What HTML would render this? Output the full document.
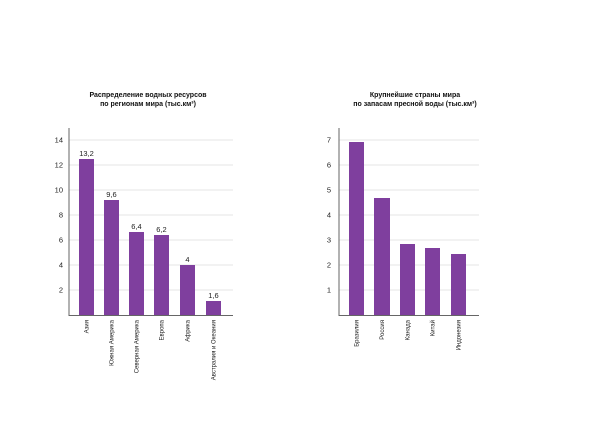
<!DOCTYPE html>
<html><head><meta charset="utf-8"><style>
html,body{margin:0;padding:0;background:#fff;}
svg{display:block;font-family:"Liberation Sans",sans-serif;}
</style></head><body>
<svg width="600" height="423" viewBox="0 0 600 423">
<rect width="600" height="423" fill="#fff"/>
<g font-size="7" font-weight="bold" fill="#111" text-anchor="middle">
<text x="148" y="97">Распределение водных ресурсов</text>
<text x="148" y="106">по регионам мира (тыс.км³)</text>
<text x="415" y="97">Крупнейшие страны мира</text>
<text x="415" y="106">по запасам пресной воды (тыс.км³)</text>
</g>
<!-- left chart -->
<g stroke="#ddd" stroke-width="0.8">
<line x1="69" y1="140" x2="233" y2="140"/>
<line x1="69" y1="165" x2="233" y2="165"/>
<line x1="69" y1="190" x2="233" y2="190"/>
<line x1="69" y1="215" x2="233" y2="215"/>
<line x1="69" y1="240" x2="233" y2="240"/>
<line x1="69" y1="265" x2="233" y2="265"/>
<line x1="69" y1="290" x2="233" y2="290"/>
</g>
<g font-size="7.5" fill="#222" text-anchor="end">
<text x="63" y="142.5">14</text><text x="63" y="167.5">12</text><text x="63" y="192.5">10</text>
<text x="63" y="217.5">8</text><text x="63" y="242.5">6</text><text x="63" y="267.5">4</text><text x="63" y="292.5">2</text>
</g>
<g fill="#7f3f9e">
<rect x="79" y="159" width="15" height="156"/>
<rect x="104" y="200" width="15" height="115"/>
<rect x="129" y="232" width="15" height="83"/>
<rect x="154" y="235" width="15" height="80"/>
<rect x="180" y="265" width="15" height="50"/>
<rect x="206" y="301" width="15" height="14"/>
</g>
<line x1="69" y1="128" x2="69" y2="316" stroke="#666" stroke-width="1"/>
<line x1="69" y1="315.5" x2="233" y2="315.5" stroke="#666" stroke-width="1"/>
<g font-size="7.5" fill="#222" text-anchor="middle">
<text x="86.5" y="156">13,2</text><text x="111.5" y="197">9,6</text><text x="136.5" y="229">6,4</text>
<text x="161.5" y="232">6,2</text><text x="187.5" y="262">4</text><text x="213.5" y="298">1,6</text>
</g>
<g font-size="6" fill="#222" text-anchor="end">
<text transform="translate(88.5,320) rotate(-90)">Азия</text>
<text transform="translate(113.5,320) rotate(-90)">Южная Америка</text>
<text transform="translate(138.5,320) rotate(-90)">Северная Америка</text>
<text transform="translate(163.5,320) rotate(-90)">Европа</text>
<text transform="translate(189.5,320) rotate(-90)">Африка</text>
<text transform="translate(215.5,320) rotate(-90)">Австралия и Океания</text>
</g>
<!-- right chart -->
<g stroke="#ddd" stroke-width="0.8">
<line x1="339" y1="140" x2="479" y2="140"/>
<line x1="339" y1="165" x2="479" y2="165"/>
<line x1="339" y1="190" x2="479" y2="190"/>
<line x1="339" y1="215" x2="479" y2="215"/>
<line x1="339" y1="240" x2="479" y2="240"/>
<line x1="339" y1="265" x2="479" y2="265"/>
<line x1="339" y1="290" x2="479" y2="290"/>
</g>
<g font-size="7.5" fill="#222" text-anchor="end">
<text x="331" y="142.5">7</text><text x="331" y="167.5">6</text><text x="331" y="192.5">5</text>
<text x="331" y="217.5">4</text><text x="331" y="242.5">3</text><text x="331" y="267.5">2</text><text x="331" y="292.5">1</text>
</g>
<g fill="#7f3f9e">
<rect x="349" y="142" width="15" height="173"/>
<rect x="374" y="198" width="16" height="117"/>
<rect x="400" y="244" width="15" height="71"/>
<rect x="425" y="248" width="15" height="67"/>
<rect x="451" y="254" width="15" height="61"/>
</g>
<line x1="339" y1="128" x2="339" y2="316" stroke="#666" stroke-width="1"/>
<line x1="339" y1="315.5" x2="479" y2="315.5" stroke="#666" stroke-width="1"/>
<g font-size="6" fill="#222" text-anchor="end">
<text transform="translate(358.5,320) rotate(-90)">Бразилия</text>
<text transform="translate(384,320) rotate(-90)">Россия</text>
<text transform="translate(409.5,320) rotate(-90)">Канада</text>
<text transform="translate(434.5,320) rotate(-90)">Китай</text>
<text transform="translate(460.5,320) rotate(-90)">Индонезия</text>
</g>
</svg>
</body></html>
